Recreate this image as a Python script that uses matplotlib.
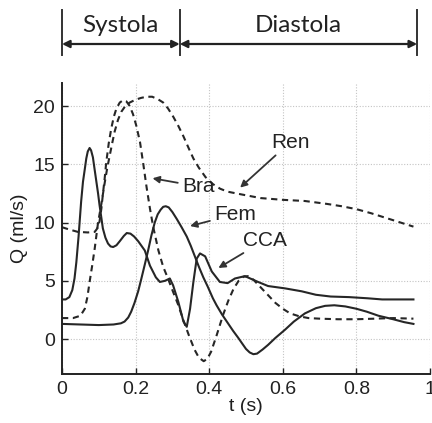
import matplotlib
matplotlib.use("Agg")
import matplotlib.pyplot as plt
import matplotlib.transforms as mtransforms

# ---------------- data ----------------
t_cca = [0.0, 0.01, 0.02, 0.028, 0.034, 0.039, 0.045, 0.052, 0.057, 0.062, 0.066, 0.07,
         0.075, 0.079, 0.084, 0.088, 0.093, 0.098, 0.102, 0.107, 0.111, 0.118, 0.125,
         0.132, 0.139, 0.148, 0.157, 0.168, 0.176, 0.186, 0.196, 0.207, 0.216, 0.225,
         0.239, 0.255, 0.266, 0.28, 0.293, 0.302, 0.316, 0.33, 0.339, 0.348, 0.357,
         0.366, 0.375, 0.389, 0.407, 0.429, 0.45, 0.47, 0.497, 0.533, 0.56, 0.606,
         0.651, 0.69, 0.73, 0.78, 0.83, 0.87, 0.91, 0.955]
q_cca = [3.4, 3.4, 3.6, 4.2, 5.2, 6.6, 8.8, 11.8, 13.5, 14.6, 15.5, 16.1,
         16.4, 16.2, 15.6, 14.7, 13.6, 12.5, 11.5, 10.4, 9.5, 8.7, 8.2,
         7.95, 7.9, 8.05, 8.4, 8.85, 9.1, 9.05, 8.8, 8.4, 8.0, 7.6,
         6.3, 5.3, 4.9, 5.0, 5.2, 4.6, 3.2, 1.5, 1.05, 2.6, 4.9,
         6.9, 7.35, 7.1, 5.8, 4.9, 4.8, 5.2, 5.4, 4.9, 4.55, 4.35,
         4.1, 3.8, 3.65, 3.6, 3.5, 3.4, 3.4, 3.4]

t_fem = [0.0, 0.05, 0.1, 0.14, 0.16, 0.17, 0.18, 0.188, 0.197, 0.207, 0.215, 0.225,
         0.234, 0.243, 0.252, 0.26, 0.268, 0.275, 0.282, 0.29, 0.3, 0.312, 0.325,
         0.339, 0.35, 0.361, 0.372, 0.384, 0.396, 0.41, 0.42, 0.435, 0.45, 0.465,
         0.479, 0.49, 0.5, 0.51, 0.52, 0.53, 0.545, 0.56, 0.58, 0.606, 0.63, 0.66,
         0.69, 0.715, 0.74, 0.77, 0.8, 0.828, 0.86, 0.9, 0.93, 0.955]
q_fem = [1.3, 1.25, 1.2, 1.25, 1.35, 1.5, 1.85, 2.35, 3.1, 4.1, 5.1, 6.4,
         7.6, 8.9, 10.0, 10.7, 11.1, 11.35, 11.4, 11.3, 10.9, 10.3, 9.6,
         8.8, 8.0, 7.1, 6.2, 5.3, 4.5, 3.5, 2.9, 2.1, 1.4, 0.7,
         0.1, -0.4, -0.85, -1.15, -1.3, -1.25, -0.9, -0.5, 0.1, 0.8, 1.5, 2.2,
         2.65, 2.85, 2.9, 2.8, 2.6, 2.35, 2.0, 1.7, 1.45, 1.3]

t_bra = [0.0, 0.02, 0.043, 0.07, 0.089, 0.096, 0.102, 0.107, 0.111, 0.116, 0.12, 0.127,
         0.134, 0.141, 0.148, 0.157, 0.166, 0.175, 0.184, 0.193, 0.202, 0.212, 0.221,
         0.23, 0.239, 0.248, 0.262, 0.275, 0.288, 0.3, 0.315, 0.33, 0.345, 0.36,
         0.372, 0.385, 0.395, 0.405, 0.42, 0.438, 0.452, 0.466, 0.48, 0.493, 0.505,
         0.52, 0.535, 0.556, 0.58, 0.6, 0.62, 0.645, 0.67, 0.7, 0.75, 0.8, 0.85,
         0.9, 0.955]
q_bra = [9.6, 9.4, 9.2, 9.15, 9.2, 9.5, 10.1, 11.2, 12.4, 13.8, 15.1, 16.8,
         18.1, 19.1, 19.8, 20.3, 20.5, 20.4, 20.0, 19.3, 18.3, 16.9, 15.0,
         13.0, 11.2, 9.6, 7.6, 6.2, 5.2, 4.2, 3.0, 1.6, 0.3, -0.9,
         -1.6, -1.9, -1.7, -1.1, 0.3, 2.1, 3.3, 4.3, 5.0, 5.35, 5.4,
         5.1, 4.6, 3.9, 3.1, 2.6, 2.2, 1.95, 1.8, 1.75, 1.7, 1.7, 1.75,
         1.8, 1.75]

t_ren = [0.0, 0.03, 0.05, 0.062, 0.069, 0.075, 0.082, 0.089, 0.098, 0.107, 0.116, 0.123,
         0.13, 0.137, 0.143, 0.152, 0.161, 0.172, 0.184, 0.2, 0.215, 0.23, 0.245,
         0.26, 0.275, 0.288, 0.302, 0.316, 0.33, 0.344, 0.357, 0.372, 0.39, 0.41,
         0.43, 0.45, 0.49, 0.54, 0.6, 0.66, 0.72, 0.76, 0.8, 0.84, 0.88, 0.92, 0.955]
q_ren = [1.8, 1.8, 2.0, 2.6, 3.6, 4.9, 6.3, 7.8, 10.0, 11.6, 13.4, 14.7,
         15.8, 16.9, 17.8, 18.8, 19.5, 20.0, 20.3, 20.55, 20.7, 20.8, 20.8,
         20.6, 20.3, 19.8, 19.1, 18.3, 17.4, 16.4, 15.5, 14.7, 13.9, 13.3,
         12.9, 12.65, 12.4, 12.1, 11.95, 11.85, 11.6, 11.4, 11.15, 10.8, 10.4, 10.0, 9.65]

x_ticks = [0, 0.2, 0.4, 0.6, 0.8, 1]
x_ticklabels = ["0", "0.2", "0.4", "0.6", "0.8", "1"]
y_ticks = [0, 5, 10, 15, 20]
y_ticklabels = ["0", "5", "10", "15", "20"]

phase_names = ["Systola", "Diastola"]
phase_bounds = [0.0, 0.32, 0.965]

# ---------------- figure ----------------
W, H = 432, 423
fig = plt.figure(figsize=(W / 100, H / 100), dpi=100)
ax_left, ax_right = 62 / W, 430 / W
ax_bottom, ax_top = 1 - 374 / H, 1 - 82.75 / H
ax = fig.add_axes([ax_left, ax_bottom, ax_right - ax_left, ax_top - ax_bottom])

ink = "#262626"
ax.plot(t_cca, q_cca, color=ink, lw=1.5, solid_joinstyle="round")
ax.plot(t_fem, q_fem, color=ink, lw=1.5, solid_joinstyle="round")
ax.plot(t_bra, q_bra, color=ink, lw=1.5, linestyle=(0, (3, 2.2)))
ax.plot(t_ren, q_ren, color=ink, lw=1.5, linestyle=(0, (3, 2.2)))

ax.set_xlim(0, 1)
ax.set_ylim(-3, 22)
ax.set_xticks(x_ticks)
ax.set_xticklabels(x_ticklabels)
ax.set_yticks(y_ticks)
ax.set_yticklabels(y_ticklabels)

lab_font = dict(family="Liberation Sans", size=14, color="#1e1e1e")
for lbl in ax.get_xticklabels() + ax.get_yticklabels():
    lbl.set_fontfamily("Liberation Sans")
    lbl.set_fontsize(14)
    lbl.set_color("#1e1e1e")
ax.tick_params(direction="in", length=4, width=1, colors="#222222", pad=5)

ax.set_xlabel("t (s)", fontdict=lab_font, labelpad=0)
ax.set_ylabel("Q (ml/s)", fontdict=lab_font, labelpad=4)

ax.grid(True, color="#c4c4c4", linestyle=(0, (1, 1.5)), lw=0.8)
for s in ["top", "right"]:
    ax.spines[s].set_visible(False)
for s in ["left", "bottom"]:
    ax.spines[s].set_linewidth(1.4)
    ax.spines[s].set_color("#222222")

# curve labels with arrows
ann_font = dict(family="Liberation Sans", size=15, color="#222222")
arrow_kw = dict(arrowstyle="-|>", color="#333333", lw=1.3, mutation_scale=10,
                shrinkA=1, shrinkB=0)
ax.annotate("Ren", xy=(0.484, 13.0), xytext=(0.62, 16.9), ha="center", va="center",
            arrowprops=arrow_kw, **ann_font)
ax.annotate("Bra", xy=(0.246, 13.8), xytext=(0.37, 13.1), ha="center", va="center",
            arrowprops=arrow_kw, **ann_font)
ax.annotate("Fem", xy=(0.348, 9.7), xytext=(0.47, 10.7), ha="center", va="center",
            arrowprops=arrow_kw, **ann_font)
ax.annotate("CCA", xy=(0.425, 6.1), xytext=(0.552, 8.5), ha="center", va="center",
            arrowprops=arrow_kw, **ann_font)

# phase brackets above the axes (x in data, y in axes fraction)
ax_h_px = 374 - 82.75
def yfrac(py):
    return (374 - py) / ax_h_px

trans = mtransforms.blended_transform_factory(ax.transData, ax.transAxes)
for xb in phase_bounds:
    ax.plot([xb, xb], [yfrac(10), yfrac(55)], transform=trans, color="#333333",
            lw=1.4, clip_on=False)
for i, name in enumerate(phase_names):
    x0, x1 = phase_bounds[i], phase_bounds[i + 1]
    ax.annotate("", xy=(x1, yfrac(44)), xytext=(x0, yfrac(44)),
                xycoords=trans, textcoords=trans,
                arrowprops=dict(arrowstyle="<|-|>", color="#222222", lw=1.6,
                                mutation_scale=11, shrinkA=0, shrinkB=0))
    ax.text((x0 + x1) / 2, yfrac(26), name, transform=trans, ha="center", va="center",
            family="Lato", fontsize=17.5, color="#222222", clip_on=False)

fig.savefig("out.png", dpi=100)
